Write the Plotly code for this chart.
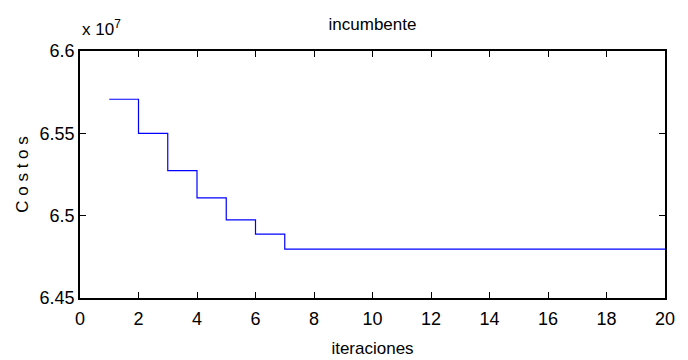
import plotly.graph_objects as go

iteraciones = list(range(1, 21))
costos = [65707000, 65500000, 65274000, 65108000, 64974000, 64888000] + [64797000] * 14

x_ticks = list(range(0, 21, 2))
y_ticks = [6.45, 6.5, 6.55, 6.6]
y_tick_labels = ["6.45", "6.5", "6.55", "6.6"]

scale = 1e7
y_vals = [c / scale for c in costos]

FONT = "Liberation Sans, Arial, sans-serif"

# page body has an 8px margin, so the figure is drawn at (8, 8)
W, H = 680, 352

fig = go.Figure()
fig.add_trace(go.Scatter(
    x=iteraciones, y=y_vals, mode="lines", line_shape="hv",
    line=dict(color="#0000ff", width=1.2), showlegend=False,
))

axis_common = dict(
    showgrid=False, zeroline=False, showline=True, linecolor="black", linewidth=1.5,
    mirror="allticks", ticks="inside", ticklen=6, tickcolor="black", tickwidth=1,
    tickfont=dict(family=FONT, size=18, color="black"), automargin=False,
)

fig.update_layout(
    width=W, height=H,
    margin=dict(l=72, r=23, t=43, b=62),
    paper_bgcolor="white", plot_bgcolor="white",
    title=dict(text="incumbente", x=(72 + 657) / 2 / W, xanchor="center", y=1 - 16 / H, yanchor="middle",
               font=dict(family=FONT, size=17, color="black")),
    xaxis=dict(range=[0, 20], tickvals=x_ticks, ticktext=[str(t) for t in x_ticks],
               ticklabelstandoff=4,
               title=dict(text="iteraciones", font=dict(family=FONT, size=17, color="black"), standoff=14),
               **axis_common),
    yaxis=dict(range=[6.45, 6.6], tickvals=y_ticks, ticktext=y_tick_labels,
               title=dict(text="C o s t o s", font=dict(family=FONT, size=17, color="black"), standoff=7),
               **axis_common),
    annotations=[dict(text="x 10<sup>7</sup>", xref="paper", yref="paper", x=0, y=1.042,
                      xanchor="left", yanchor="bottom", showarrow=False,
                      font=dict(family=FONT, size=17, color="black"))],
)

fig.write_html("out.html")
